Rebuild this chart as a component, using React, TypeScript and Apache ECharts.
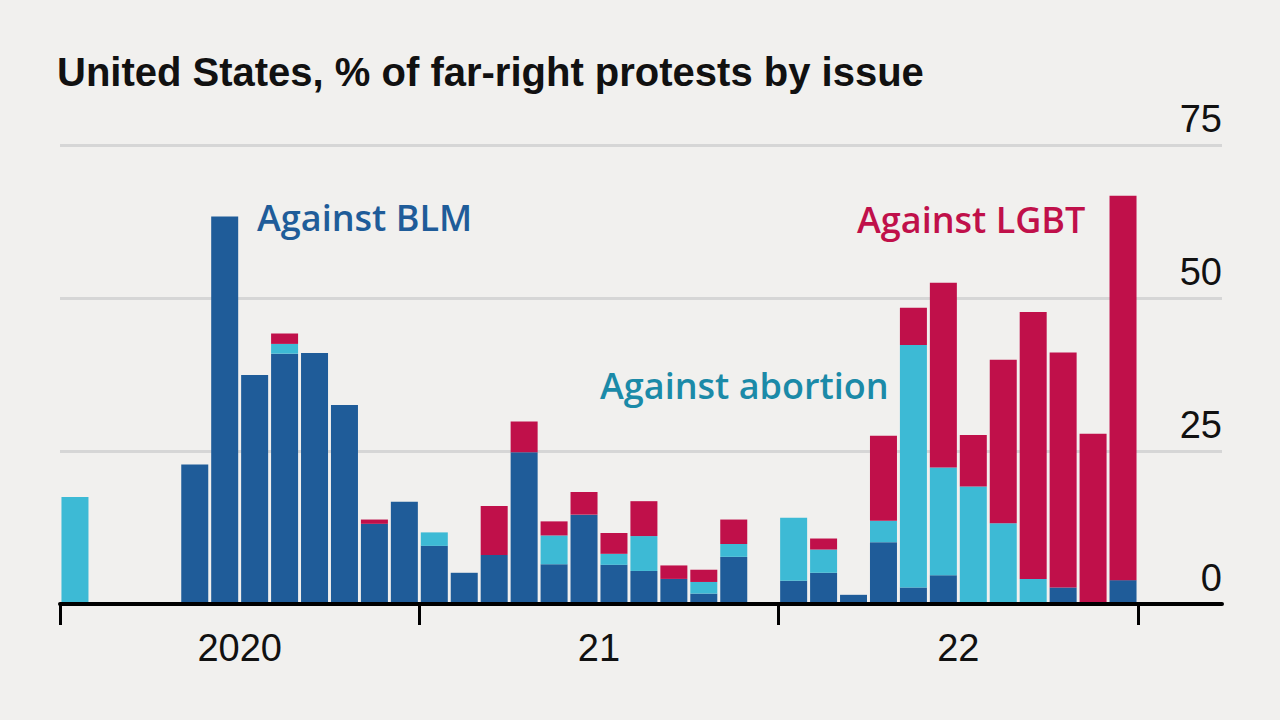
import React, { useEffect, useRef } from "react";
import * as echarts from "echarts";

// Monthly categories, Jan 2020 – Dec 2022
const months: string[] = [
  "Jan 2020", "Feb 2020", "Mar 2020", "Apr 2020", "May 2020", "Jun 2020",
  "Jul 2020", "Aug 2020", "Sep 2020", "Oct 2020", "Nov 2020", "Dec 2020",
  "Jan 2021", "Feb 2021", "Mar 2021", "Apr 2021", "May 2021", "Jun 2021",
  "Jul 2021", "Aug 2021", "Sep 2021", "Oct 2021", "Nov 2021", "Dec 2021",
  "Jan 2022", "Feb 2022", "Mar 2022", "Apr 2022", "May 2022", "Jun 2022",
  "Jul 2022", "Aug 2022", "Sep 2022", "Oct 2022", "Nov 2022", "Dec 2022",
];

// % of far-right protests by issue (null = no data that month)
const againstBLM: (number | null)[] = [
  0, null, null, null, 22.8, 63.3, 37.4, 40.9, 41.0, 32.5, 13.1, 16.7,
  9.5, 5.1, 8.0, 24.8, 6.5, 14.6, 6.4, 5.4, 4.1, 1.7, 7.7, null,
  3.8, 5.1, 1.5, 10.1, 2.7, 4.7, 0, 0, 0, 2.7, 0, 3.9,
];
const againstAbortion: (number | null)[] = [
  17.5, null, null, null, 0, 0, 0, 1.6, 0, 0, 0, 0,
  2.2, 0, 0, 0, 4.7, 0, 1.8, 5.7, 0, 1.9, 2.1, null,
  10.3, 3.8, 0, 3.5, 39.6, 17.6, 19.2, 13.2, 4.1, 0, 0, 0,
];
const againstLGBT: (number | null)[] = [
  0, null, null, null, 0, 0, 0, 1.7, 0, 0, 0.7, 0,
  0, 0, 8.0, 5.0, 2.3, 3.7, 3.4, 5.7, 2.2, 2.0, 4.0, null,
  0, 1.8, 0, 13.9, 6.1, 30.2, 8.4, 26.7, 43.6, 38.4, 27.8, 62.8,
];

const yearLabels: string[] = ["2020", "21", "22"];
const yTicks = { min: 0, max: 75, interval: 25 };

const COLORS = {
  bg: "#f1f0ee",
  blm: "#1f5c99",
  abortion: "#3dbad5",
  lgbt: "#c0104a",
  abortionText: "#1b8aa8",
  grid: "#d6d6d6",
  ink: "#111111",
};

const TICK_FONT = "'Liberation Sans Narrow', 'Liberation Sans', Arial, sans-serif";
const LABEL_FONT = "'Open Sans', 'Noto Sans', sans-serif";

export default function App() {
  const ref = useRef<HTMLDivElement>(null);

  useEffect(() => {
    document.body.style.margin = "0";
    document.body.style.background = COLORS.bg;
    if (!ref.current) return;
    const chart = echarts.init(ref.current, undefined, { renderer: "svg" });

    const gridLeft = 60;
    const barsRight = 1138;
    const axisRight = 1222;
    const top = 145;
    const bottom = 720 - 604;
    const perMonth = (barsRight - gridLeft) / months.length;
    const xMax = (axisRight - gridLeft) / perMonth; // months, incl. space right of Dec 2022

    const toData = (arr: (number | null)[]) => arr.map((v) => (v == null ? "-" : v));

    const mkSeries = (name: string, arr: (number | null)[], color: string) => ({
      name,
      type: "bar",
      stack: "issues",
      xAxisIndex: 0,
      yAxisIndex: 0,
      barWidth: 27,
      data: toData(arr),
      itemStyle: { color },
      emphasis: { disabled: true },
    });

    chart.setOption({
      animation: false,
      backgroundColor: COLORS.bg,
      grid: [
        { left: gridLeft, right: 1280 - barsRight, top, bottom },
        { left: gridLeft, right: 1280 - axisRight, top, bottom },
      ],
      xAxis: [
        {
          type: "category",
          gridIndex: 0,
          data: months,
          show: false,
        },
        {
          type: "value",
          gridIndex: 1,
          min: 0,
          max: xMax,
          interval: 12,
          z: 5,
          splitLine: { show: false },
          axisLine: { lineStyle: { color: "#000", width: 4 } },
          axisTick: {
            customValues: yearLabels.map((_, i) => i * 12).concat([yearLabels.length * 12]),
            length: 21,
            lineStyle: { color: "#000", width: 3 },
          },
          axisLabel: {
            customValues: yearLabels.map((_, i) => i * 12 + 6),
            formatter: (v: number) => yearLabels[Math.floor(v / 12)] ?? "",
            margin: 25,
            fontSize: 38,
            fontFamily: TICK_FONT,
            color: COLORS.ink,
          },
        },
      ],
      yAxis: [
        {
          type: "value",
          gridIndex: 0,
          min: yTicks.min,
          max: yTicks.max,
          interval: yTicks.interval,
          show: false,
        },
        {
          type: "value",
          gridIndex: 1,
          position: "right",
          min: yTicks.min,
          max: yTicks.max,
          interval: yTicks.interval,
          axisLine: { show: false },
          axisTick: { show: false },
          splitLine: { lineStyle: { color: COLORS.grid, width: 3 } },
          axisLabel: {
            inside: true,
            margin: 0,
            verticalAlign: "bottom",
            lineHeight: 53,
            fontSize: 38,
            fontFamily: TICK_FONT,
            color: COLORS.ink,
          },
        },
      ],
      series: [
        mkSeries("Against BLM", againstBLM, COLORS.blm),
        mkSeries("Against abortion", againstAbortion, COLORS.abortion),
        mkSeries("Against LGBT", againstLGBT, COLORS.lgbt),
      ],
      graphic: [
        {
          type: "text",
          x: 57,
          y: 72,
          style: {
            text: "United States, % of far-right protests by issue",
            fontSize: 40,
            fontWeight: "bold",
            fontFamily: "'Liberation Sans', Arial, sans-serif",
            fill: COLORS.ink,
            verticalAlign: "middle",
          },
        },
        {
          type: "text",
          x: 257,
          y: 217,
          style: {
            text: "Against BLM",
            fontSize: 36,
            fontWeight: 600,
            fontFamily: LABEL_FONT,
            fill: COLORS.blm,
            verticalAlign: "middle",
          },
        },
        {
          type: "text",
          x: 600,
          y: 385,
          style: {
            text: "Against abortion",
            fontSize: 36,
            fontWeight: 600,
            fontFamily: LABEL_FONT,
            fill: COLORS.abortionText,
            verticalAlign: "middle",
          },
        },
        {
          type: "text",
          x: 857,
          y: 219,
          style: {
            text: "Against LGBT",
            fontSize: 36,
            fontWeight: 600,
            fontFamily: LABEL_FONT,
            fill: COLORS.lgbt,
            verticalAlign: "middle",
          },
        },
      ],
    });

    return () => chart.dispose();
  }, []);

  return <div ref={ref} style={{ width: 1280, height: 720 }} />;
}
